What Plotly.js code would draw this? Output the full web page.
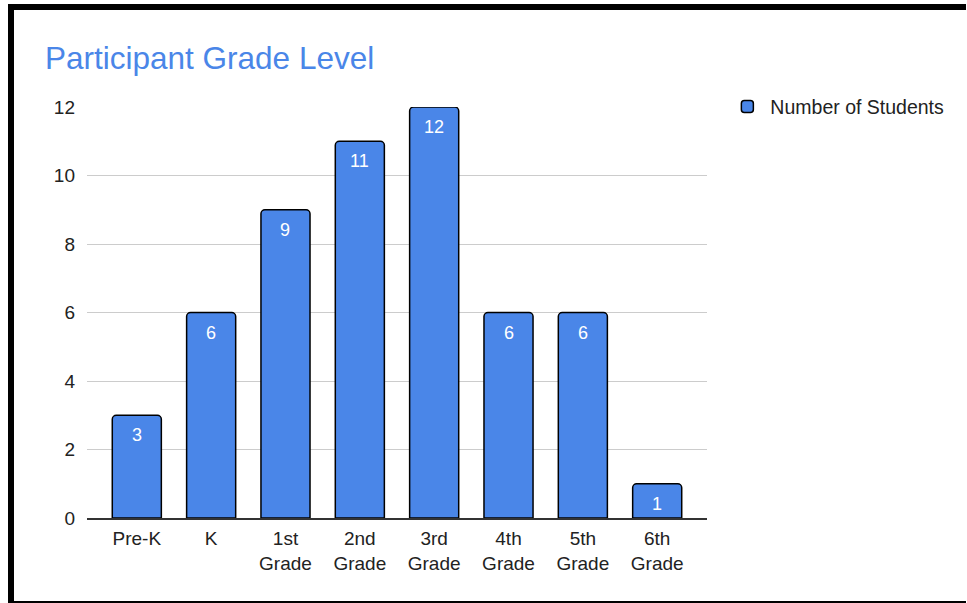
<!DOCTYPE html>
<html>
<head>
<meta charset="utf-8">
<script src="https://cdn.plot.ly/plotly-3.0.1.min.js"></script>
<style>
  html, body { margin: 0; padding: 0; background: #fff; }
  #wrap { position: relative; width: 967px; height: 603px; overflow: hidden; }
  #chart { position: absolute; left: 0; top: 0; width: 967px; height: 603px; }
  .frame { position: absolute; background: #000; z-index: 5; }
</style>
</head>
<body>
<div id="wrap">
  <div id="chart"></div>
  <div class="frame" style="left:8px; top:4px; width:958px; height:6px;"></div>
  <div class="frame" style="left:8px; top:4px; width:6px; height:599px;"></div>
  <div class="frame" style="left:8px; top:601px; width:958px; height:2px;"></div>
</div>
<script>
const categories = ["Pre-K", "K", "1st<br>Grade", "2nd<br>Grade", "3rd<br>Grade", "4th<br>Grade", "5th<br>Grade", "6th<br>Grade"];
const students = [3, 6, 9, 11, 12, 6, 6, 1];
const seriesName = "Number of Students";
const yTicks = [0, 2, 4, 6, 8, 10, 12];

const blue = "#4a86e8";
const font = "Liberation Sans, Arial, sans-serif";

const trace = {
  type: "bar",
  x: categories,
  y: students,
  name: seriesName,
  width: 0.66,
  marker: { color: blue, line: { color: "#000", width: 1.5 }, cornerradius: 4 },
  hoverinfo: "none",
  showlegend: true
};

// value labels, placed through the axes at each bar's value
const labels = categories.map((c, i) => ({
  x: c,
  y: students[i],
  xref: "x",
  yref: "y",
  text: String(students[i]),
  showarrow: false,
  yanchor: "middle",
  yshift: -20,
  font: { family: font, size: 18, color: "#fff" }
}));

const layout = {
  width: 967,
  height: 603,
  margin: { l: 87, r: 260, t: 107, b: 85 },
  paper_bgcolor: "#fff",
  plot_bgcolor: "#fff",
  font: { family: font, size: 19, color: "#222" },
  title: {
    text: "Participant Grade Level",
    font: { family: font, size: 31.5, color: blue },
    x: 45 / 967, xanchor: "left", xref: "container",
    y: 1 - 58 / 603, yanchor: "middle", yref: "container"
  },
  xaxis: {
    range: [-0.67, 7.67],
    showgrid: false,
    showline: true,
    linecolor: "#333",
    linewidth: 1.5,
    ticks: "",
    ticklabelstandoff: 3,
    tickfont: { family: font, size: 19, color: "#222" },
    fixedrange: true
  },
  yaxis: {
    range: [0, 12],
    tickvals: yTicks,
    ticktext: yTicks.map(String),
    showgrid: true,
    gridcolor: "#cccccc",
    gridwidth: 1,
    zeroline: false,
    showline: false,
    ticks: "",
    ticklabelstandoff: 11,
    tickfont: { family: font, size: 19, color: "#222" },
    fixedrange: true
  },
  annotations: labels,
  showlegend: true,
  legend: {
    x: 1.028, xanchor: "left",
    y: 1.048, yanchor: "top",
    font: { family: font, size: 19.5, color: "#222" },
    bgcolor: "rgba(0,0,0,0)",
    itemwidth: 36
  },
  bargap: 0.34
};

Plotly.newPlot("chart", [trace], layout, { displayModeBar: false, staticPlot: true });
</script>
</body>
</html>
